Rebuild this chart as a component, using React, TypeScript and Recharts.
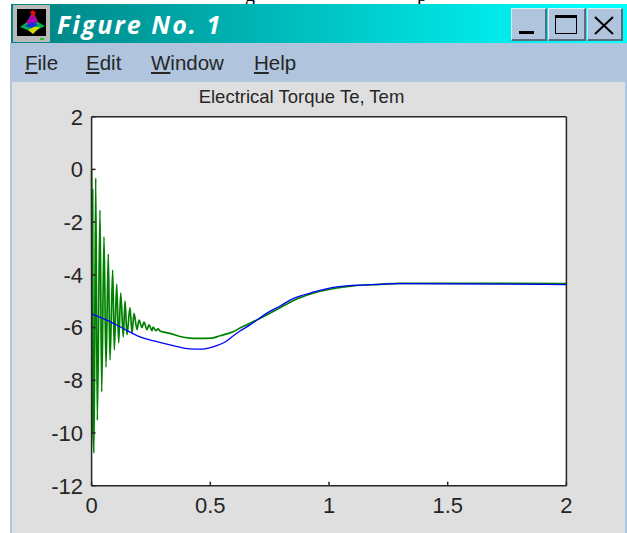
import { CartesianGrid, Line, LineChart, XAxis, YAxis } from "recharts";

const xTicks = [0, 0.5, 1, 1.5, 2];
const yTicks = [2, 0, -2, -4, -6, -8, -10, -12];

const greenTimes = [
  0, 0.002, 0.0045, 0.0065, 0.0101, 0.0173, 0.024, 0.0354, 0.0425, 0.0522, 0.0607, 0.0703, 0.0775,
  0.0889, 0.0956, 0.1057, 0.1141, 0.1226, 0.1335, 0.1407, 0.1491, 0.1617, 0.1702, 0.1786,
  0.1912, 0.1997, 0.2122, 0.2207, 0.2333, 0.2417, 0.2544, 0.2586, 0.2713, 0.2797, 0.2881,
  0.33, 0.372, 0.414, 0.444, 0.507, 0.541, 0.596, 0.625, 0.667, 0.737, 0.794, 0.849, 0.933,
  1.034, 1.101, 1.215, 1.299, 2,
];
const greenTorque = [
  0, -10, -0.78, -10, -10.76, -0.33, -9.51, -1.54, -8.44, -2.56, -7.5, -3.21, -7.23,
  -3.82, -6.85, -4.35, -6.58, -4.69, -6.35, -5, -6.27, -5.24, -6.2, -5.46,
  -6.08, -5.72, -6, -5.79, -6.08, -5.9, -6.12, -5.98, -6.12, -6.05, -6.13,
  -6.22, -6.34, -6.4, -6.41, -6.4, -6.31, -6.16, -6.02, -5.84, -5.52, -5.25, -4.98, -4.7,
  -4.5, -4.42, -4.36, -4.32, -4.33,
];

const blueTimes = [
  0, 0.069, 0.12, 0.204, 0.259, 0.33, 0.414, 0.457, 0.512, 0.569, 0.596, 0.625, 0.667, 0.737, 0.794,
  0.849, 0.933, 1.034, 1.16, 1.299, 2,
];
const blueTorque = [
  -5.48, -5.74, -5.97, -6.35, -6.5, -6.66, -6.81, -6.82, -6.73, -6.51, -6.32, -6.13, -5.9, -5.46, -5.18,
  -4.9, -4.66, -4.46, -4.38, -4.33, -4.37,
];

const menuItems = [
  { first: "F", rest: "ile", left: 25 },
  { first: "E", rest: "dit", left: 86 },
  { first: "W", rest: "indow", left: 151 },
  { first: "H", rest: "elp", left: 254 },
];

const greenData = greenTimes.map((t, i) => ({ t, v: greenTorque[i] }));
const blueData = blueTimes.map((t, i) => ({ t, v: blueTorque[i] }));

const sans = "'Liberation Sans', Arial, sans-serif";
const axisColor = "#262626";
const hideLabel = () => <g />;

function box(left: number, top: number, width: number, height: number, extra?: React.CSSProperties) {
  return { position: "absolute", left, top, width, height, ...extra } as React.CSSProperties;
}

function WinButton({ left, width, children }: any) {
  return (
    <div
      style={box(left, 8, width, 33, {
        background: "#b0c4de",
        boxSizing: "border-box",
        borderTop: "1px solid #e4ecf5",
        borderLeft: "1px solid #e4ecf5",
        borderRight: "2px solid #5d6b7c",
        borderBottom: "2px solid #5d6b7c",
      })}
    >
      <svg width={width - 3} height={30} style={{ display: "block" }}>
        {children}
      </svg>
    </div>
  );
}

function FigureIcon() {
  return (
    <svg width={38} height={38} style={{ position: "absolute", left: 13, top: 5 }}>
      <rect x={0} y={0} width={37} height={37} fill="#b9b9b9" />
      <rect x={4} y={4} width={29} height={27} fill="#000" />
      <polygon points="7,22 14,17 20,6 25,17 32,21 22,26 17,26" fill="#00b050" />
      <polygon points="13,18 20,7 25,17 20,20" fill="#b000b0" />
      <polygon points="12,21 19,17 25,20 18,23" fill="#1030e0" />
      <polygon points="15,25 21,22 27,22 20,29" fill="#d8d800" />
      <polygon points="17,7 20,5 23,8 20,12" fill="#e01010" />
      <rect x={27} y={33} width={4} height={2} fill="#30c030" />
    </svg>
  );
}

export default function App() {
  return (
    <div style={box(0, 0, 627, 533, { background: "#fff", overflow: "hidden" })}>
      {/* only the tails of the line above the window are left in the screenshot */}
      <div style={box(0, 0, 627, 4, { overflow: "hidden", fontFamily: "'Liberation Serif', serif", fontSize: 20, lineHeight: "20px" })}>
        <span style={{ position: "absolute", left: 245, top: -16 }}>g</span>
        <span style={{ position: "absolute", left: 417, top: -16 }}>p</span>
      </div>

      <div style={box(11, 4, 616, 39, { background: "linear-gradient(90deg, #008080 0%, #00ffff 95%)" })} />
      <FigureIcon />
      <div
        style={box(57, 7, 180, 34, {
          color: "#fff",
          fontFamily: "'Open Sans', sans-serif",
          fontStyle: "italic",
          fontWeight: 700,
          fontSize: 25,
          letterSpacing: 2,
          lineHeight: "34px",
          whiteSpace: "nowrap",
        })}
      >
        Figure No. 1
      </div>
      <WinButton left={511} width={36}>
        <rect x={7} y={22} width={15} height={3} fill="#000" />
      </WinButton>
      <WinButton left={548} width={38}>
        <rect x={6.5} y={6.5} width={21} height={18} fill="none" stroke="#000" strokeWidth={1} />
        <rect x={6} y={6} width={22} height={3} fill="#000" />
      </WinButton>
      <WinButton left={587} width={36}>
        <path d="M7 8 L25 25 M25 8 L7 25" stroke="#000" strokeWidth={2} />
      </WinButton>

      <div style={box(11, 43, 616, 39, { background: "#b0c4de" })} />
      {menuItems.map((m) => (
        <div
          key={m.first}
          style={{
            position: "absolute",
            left: m.left,
            top: 51,
            fontFamily: sans,
            fontSize: 20.5,
            lineHeight: "24px",
            color: "#262626",
          }}
        >
          <u>{m.first}</u>
          {m.rest}
        </div>
      ))}

      <div style={box(10, 43, 2, 490, { background: "#b0c4de" })} />
      <div style={box(12, 82, 613, 451, { background: "#dfdfdf" })} />
      <div style={box(625, 82, 2, 451, { background: "#b0c4de" })} />

      <div
        style={{
          position: "absolute",
          left: 91,
          width: 421,
          top: 86,
          textAlign: "center",
          fontFamily: sans,
          fontSize: 18.5,
          lineHeight: "22px",
          color: "#262626",
        }}
      >
        Electrical Torque Te, Tem
      </div>

      <div style={{ position: "absolute", left: 0, top: 0 }}>
        <LineChart
          width={627}
          height={533}
          margin={{ top: 115.7, right: 59.6, bottom: 17.3, left: 31.6 }}
        >
          <CartesianGrid fill="#ffffff" horizontal={false} vertical={false} />
          <XAxis
            dataKey="t"
            type="number"
            domain={[0, 2]}
            ticks={xTicks}
            interval={0}
            height={30}
            stroke={axisColor}
            strokeWidth={1.5}
            tickSize={-4}
            tickMargin={16}
            tick={{ fontSize: 22, fontFamily: sans, fill: "#262626" }}
          />
          {/* an axis of zero height or width is not drawn, so these two get 1px */}
          <XAxis
            xAxisId="top"
            orientation="top"
            dataKey="t"
            type="number"
            domain={[0, 2]}
            ticks={xTicks}
            interval={0}
            height={1}
            stroke={axisColor}
            strokeWidth={1.5}
            tickSize={-4}
            tick={hideLabel}
          />
          <YAxis
            type="number"
            domain={[-12, 2]}
            ticks={yTicks}
            interval={0}
            width={60}
            stroke={axisColor}
            strokeWidth={1.5}
            tickSize={-4}
            tickMargin={12.5}
            tick={{ fontSize: 22, fontFamily: sans, fill: "#262626" }}
          />
          <YAxis
            yAxisId="right"
            orientation="right"
            type="number"
            domain={[-12, 2]}
            ticks={yTicks}
            interval={0}
            width={1}
            stroke={axisColor}
            strokeWidth={1.5}
            tickSize={-4}
            tick={hideLabel}
          />
          <Line
            data={greenData}
            dataKey="v"
            type="monotone"
            stroke="#008000"
            strokeWidth={1.7}
            dot={false}
            isAnimationActive={false}
          />
          <Line
            data={blueData}
            dataKey="v"
            type="monotone"
            stroke="#0000ff"
            strokeWidth={1.3}
            dot={false}
            isAnimationActive={false}
          />
        </LineChart>
      </div>
    </div>
  );
}
